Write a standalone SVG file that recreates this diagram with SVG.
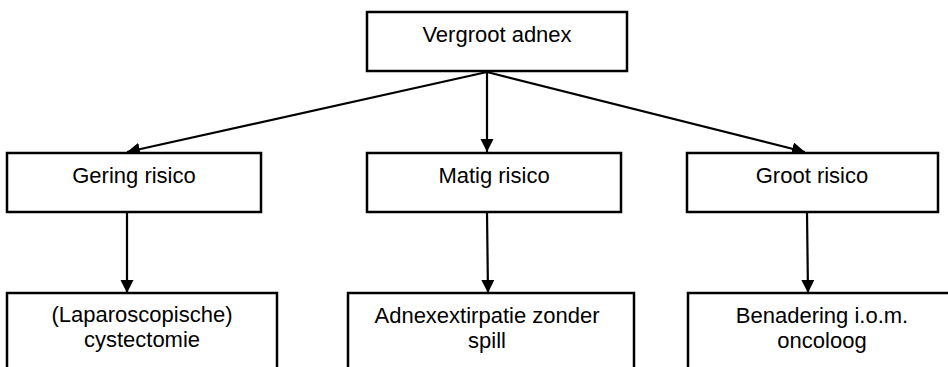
<svg xmlns="http://www.w3.org/2000/svg" width="948" height="367" viewBox="0 0 948 367">
  <defs>
    <marker id="arrow" markerUnits="userSpaceOnUse" markerWidth="14" markerHeight="14" refX="13" refY="6.5" orient="auto">
      <path d="M0,0 L13,6.5 L0,13 z" fill="#000"/>
    </marker>
    <style>
      .box { fill: #fff; stroke: #000; stroke-width: 2.5; }
      .lbl { font-family: "Liberation Sans", Arial, sans-serif; font-size: 22px; fill: #000; text-anchor: middle; }
      .edge { stroke: #000; stroke-width: 2.2; fill: none; marker-end: url(#arrow); }
    </style>
  </defs>
  <rect width="948" height="367" fill="#fff"/>

  <g id="connectors">
    <line class="edge" x1="487" y1="72" x2="127" y2="152"/>
    <line class="edge" x1="487" y1="72" x2="487" y2="152"/>
    <line class="edge" x1="487" y1="72" x2="805" y2="152"/>
    <line class="edge" x1="127" y1="212" x2="127" y2="293"/>
    <line class="edge" x1="487" y1="212" x2="488" y2="293"/>
    <line class="edge" x1="807" y1="212" x2="808" y2="293"/>
  </g>

  <g id="vergroot-adnex">
    <rect class="box" x="367" y="12" width="260" height="59"/>
    <text class="lbl" x="497" y="42">Vergroot adnex</text>
  </g>

  <g id="gering-risico">
    <rect class="box" x="7" y="153" width="254" height="59"/>
    <text class="lbl" x="134" y="183">Gering risico</text>
  </g>

  <g id="matig-risico">
    <rect class="box" x="367" y="153" width="254" height="59"/>
    <text class="lbl" x="494" y="183">Matig risico</text>
  </g>

  <g id="groot-risico">
    <rect class="box" x="687" y="153" width="251" height="59"/>
    <text class="lbl" x="812" y="183">Groot risico</text>
  </g>

  <g id="cystectomie">
    <rect class="box" x="7" y="293" width="270" height="90"/>
    <text class="lbl" x="142" y="322">(Laparoscopische)</text>
    <text class="lbl" x="142" y="347">cystectomie</text>
  </g>

  <g id="adnexextirpatie">
    <rect class="box" x="348" y="293" width="286" height="90"/>
    <text class="lbl" x="487" y="323">Adnexextirpatie zonder</text>
    <text class="lbl" x="487" y="348">spill</text>
  </g>

  <g id="oncoloog">
    <rect class="box" x="688" y="293" width="270" height="90"/>
    <text class="lbl" x="822" y="323">Benadering i.o.m.</text>
    <text class="lbl" x="822" y="348">oncoloog</text>
  </g>
</svg>
